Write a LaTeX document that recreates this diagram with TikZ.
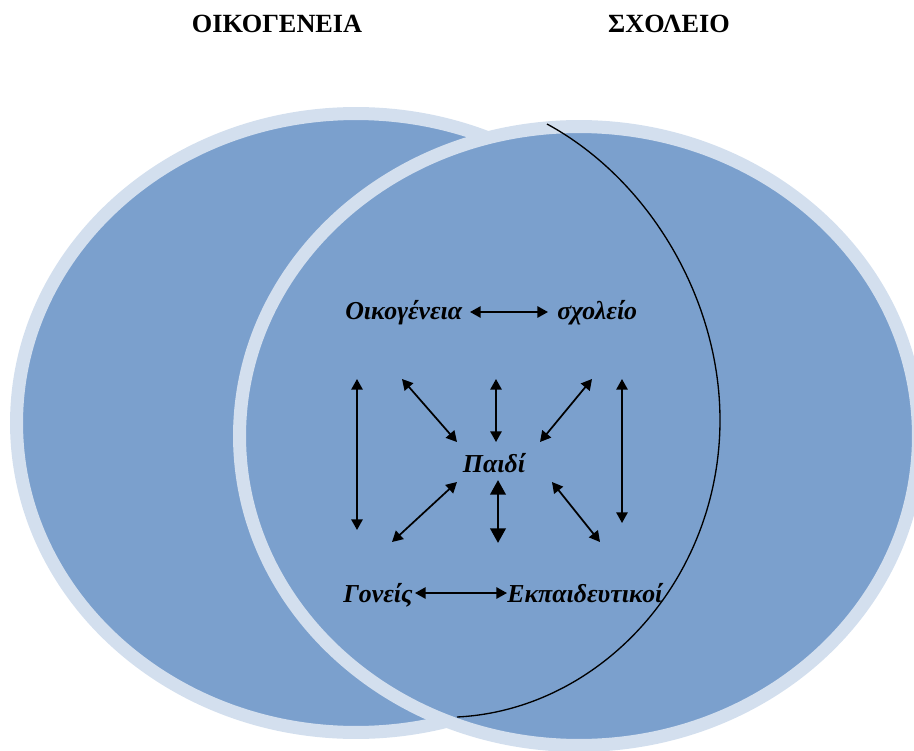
\documentclass[tikz,border=0pt]{standalone}
\usepackage{fontspec}
\setmainfont{Liberation Serif}
\usetikzlibrary{arrows.meta}
\definecolor{vennfill}{RGB}{123,160,205}
\definecolor{vennband}{RGB}{211,223,238}
\tikzset{
  venn/.style={fill=vennfill, draw=vennband, line width=9.75pt},
  title/.style={font=\fontsize{19.7}{22}\selectfont\bfseries, inner sep=0pt, anchor=base},
  lbl/.style={font=\fontsize{19.4}{22}\selectfont\bfseries\itshape, inner sep=0pt},
  arr/.style={line width=1.3pt, {Triangle[width=8.5pt,length=8pt]}-{Triangle[width=8.5pt,length=8pt]}},
  arrthick/.style={line width=2.2pt, {Triangle[width=11.5pt,length=11pt]}-{Triangle[width=11.5pt,length=11pt]}},
  arc/.style={draw=black, line width=1pt}
}
\begin{document}
\begin{tikzpicture}[x=0.75pt,y=-0.75pt]
\useasboundingbox (0,0) rectangle (914,750);
% ellipses
\draw[venn] (356,423) ellipse [x radius=254.6pt, y radius=232.1pt];
\draw[venn] (579,436) ellipse [x radius=254.6pt, y radius=232.1pt];
% arc
\coordinate (arcA) at (547,124);
\coordinate (arcB) at (720,420);
\coordinate (arcC) at (457,717);
\draw[arc] (arcA) .. controls (650,180) and (720,300) .. (arcB)
               .. controls (720,580) and (600,710) .. (arcC);
% titles
\node[title] (tfam) at (277,32) {ΟΙΚΟΓΕΝΕΙΑ};
\node[title] (tsch) at (669,32) {ΣΧΟΛΕΙΟ};
% labels
\node[lbl, anchor=base west] (fam) at (345,319) {Οικογένεια};
\node[lbl, anchor=base west] (sch) at (557,319) {σχολείο};
\node[lbl, anchor=base] (child) at (494,472) {Παιδί};
\node[lbl, anchor=base west] (par) at (343,602) {Γονείς};
\node[lbl, anchor=base west] (tea) at (507,602) {Εκπαιδευτικοί};
% arrow end points
\coordinate (h1a) at (470,312); \coordinate (h1b) at (548,312);
\coordinate (h2a) at (415,593); \coordinate (h2b) at (507,593);
\coordinate (v1a) at (357,379); \coordinate (v1b) at (357,530);
\coordinate (d1a) at (402,379); \coordinate (d1b) at (457,442);
\coordinate (v2a) at (496,379); \coordinate (v2b) at (496,442);
\coordinate (d2a) at (592,379); \coordinate (d2b) at (540,442);
\coordinate (v3a) at (622,379); \coordinate (v3b) at (622,523);
\coordinate (d3a) at (457,482); \coordinate (d3b) at (392,542);
\coordinate (v4a) at (498,480); \coordinate (v4b) at (498,543);
\coordinate (d4a) at (552,482); \coordinate (d4b) at (600,542);
% arrows
\draw[arr] (h1a) -- (h1b);
\draw[arr] (h2a) -- (h2b);
\draw[arr] (v1a) -- (v1b);
\draw[arr] (d1a) -- (d1b);
\draw[arr] (v2a) -- (v2b);
\draw[arr] (d2a) -- (d2b);
\draw[arr] (v3a) -- (v3b);
\draw[arr] (d3a) -- (d3b);
\draw[arrthick] (v4a) -- (v4b);
\draw[arr] (d4a) -- (d4b);
\end{tikzpicture}
\end{document}
